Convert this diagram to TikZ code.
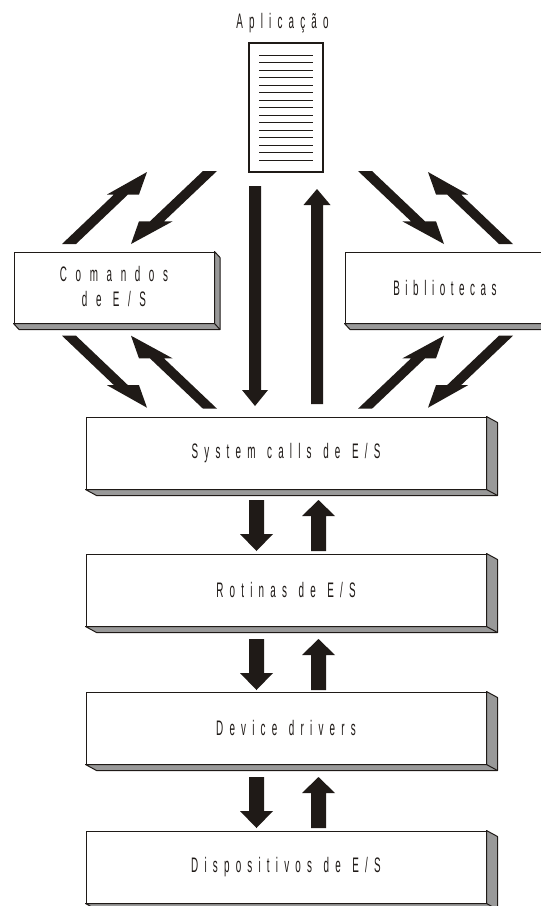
\documentclass[tikz,border=0pt]{standalone}
\usepackage{fontspec}
\setmainfont{Liberation Sans}
\newfontfamily\labelfont[FakeStretch=0.47,LetterSpace=29.5,WordSpace=1.3]{Liberation Sans}
\newfontfamily\widefont[FakeStretch=0.47,LetterSpace=41,WordSpace=1]{Liberation Sans}
\newfontfamily\tightfont[FakeStretch=0.47,LetterSpace=26.5,WordSpace=1.3]{Liberation Sans}
\usetikzlibrary{calc}
\definecolor{ink}{HTML}{1F1A17}
\definecolor{sidegray}{HTML}{999999}
\tikzset{
  blockbox/.style={draw=ink,fill=white,line width=1pt,inner sep=0pt,align=center,text=ink,
    font=\labelfont\fontsize{21}{25}\selectfont},
  depthface/.style={draw=ink,fill=sidegray,line width=1pt,line join=round},
  blockarrow/.style={fill=ink,draw=none},
  doctext/.style={draw=ink,line width=0.8pt},
}
% depth faces: node, dx, dy
\newcommand{\boxdepth}[3]{%
  \draw[depthface] (#1.south west) -- ++(#2,#3) -- ($(#1.south east)+(#2,#3)$) -- ($(#1.north east)+(#2,#3)$) -- (#1.north east) -- (#1.south east) -- cycle;
  \draw[draw=ink,line width=1pt] (#1.south east) -- ++(#2,#3);
}
% straight vertical block arrow: tail, tip, half shaft, half head, head length
\newcommand{\vblock}[5]{%
  \fill[blockarrow] let \p1=(#1), \p2=(#2), \n1={(\y1>\y2?1:-1)*#5} in
    (\x1-#3pt,\y1) -- (\x1-#3pt,\y2+\n1) -- (\x1-#4pt,\y2+\n1) -- (\x2,\y2)
    -- (\x1+#4pt,\y2+\n1) -- (\x1+#3pt,\y2+\n1) -- (\x1+#3pt,\y1) -- cycle;
}
\newcommand{\upr}{(62,244) -- (114,194.5) -- (107,194.5) -- (147,172) -- (139,194.5) -- (128,194.5) -- (76,244) -- cycle}
\newcommand{\dnl}{(203,171) -- (150,221.3) -- (139,221.3) -- (131,244) -- (172.7,221.3) -- (164,221.3) -- (217,171) -- cycle}
\newcommand{\diagpair}{\fill[blockarrow] \upr; \fill[blockarrow] \dnl;}
\begin{document}
\begin{tikzpicture}[x=1pt,y=-1pt]
\useasboundingbox (0,0) rectangle (541,906);
% document icon
\node[draw=ink,fill=white,line width=2.4pt,minimum width=74pt,minimum height=129pt,inner sep=0pt] (app) at (286,107.5) {};
\node[text=ink,font=\labelfont\fontsize{21}{25}\selectfont,anchor=base,inner sep=0pt] (applabel) at (282.5,28) {Aplicação};
\foreach \i in {0,...,14} \draw[doctext] (259,{55+7.5*\i}) -- (313,{55+7.5*\i});
% boxes
\node[blockbox,minimum width=200pt,minimum height=71pt] (cmd) at (114,287.5) {};
\node[text=ink,font=\widefont\fontsize{21}{25}\selectfont,align=center,inner sep=0pt] (cmdlabel) at (114,286) {Comandos\\de E/S};
\node[blockbox,minimum width=200pt,minimum height=71pt] (lib) at (445,287.5) {\tightfont\fontsize{21}{25}\selectfont Bibliotecas};
\node[blockbox,minimum width=400pt,minimum height=72pt] (sys) at (286,453) {System calls de E/S};
\node[blockbox,minimum width=400pt,minimum height=72pt] (rot) at (286,590) {Rotinas de E/S};
\node[blockbox,minimum width=400pt,minimum height=72pt] (dev) at (286,728) {Device drivers};
\node[blockbox,minimum width=400pt,minimum height=72pt] (dsp) at (286,867) {Dispositivos de E/S};
\boxdepth{cmd}{5.5}{6}
\boxdepth{lib}{5.5}{6}
\boxdepth{sys}{11}{6}
\boxdepth{rot}{11}{6}
\boxdepth{dev}{11}{6}
\boxdepth{dsp}{11}{6}
% named arrow ends
\coordinate (ld) at (255,186); \coordinate (ldt) at (255,406);
\coordinate (lu) at (317,404); \coordinate (lut) at (317,189);
\coordinate (a1) at (256.5,500); \coordinate (a1t) at (256.5,551);
\coordinate (b1) at (318.5,551); \coordinate (b1t) at (318.5,500);
\coordinate (a2) at (256.5,639); \coordinate (a2t) at (256.5,690);
\coordinate (b2) at (318.5,690); \coordinate (b2t) at (318.5,639);
\coordinate (a3) at (256.5,777); \coordinate (a3t) at (256.5,828);
\coordinate (b3) at (318.5,828); \coordinate (b3t) at (318.5,777);
\vblock{ld}{ldt}{6}{13}{16}
\vblock{lu}{lut}{6}{13.5}{16}
\vblock{a1}{a1t}{7.5}{16.5}{17}
\vblock{b1}{b1t}{7.5}{16.5}{16}
\vblock{a2}{a2t}{7.5}{16.5}{17}
\vblock{b2}{b2t}{7.5}{16.5}{16}
\vblock{a3}{a3t}{7.5}{16.5}{17}
\vblock{b3}{b3t}{7.5}{16.5}{16}
% diagonal arrows
\diagpair
\begin{scope}[shift={(0,579.7)},yscale=-1]\diagpair\end{scope}
\begin{scope}[shift={(575,0)},xscale=-1]\diagpair\end{scope}
\begin{scope}[shift={(575,579.7)},xscale=-1,yscale=-1]\diagpair\end{scope}
\end{tikzpicture}
\end{document}
